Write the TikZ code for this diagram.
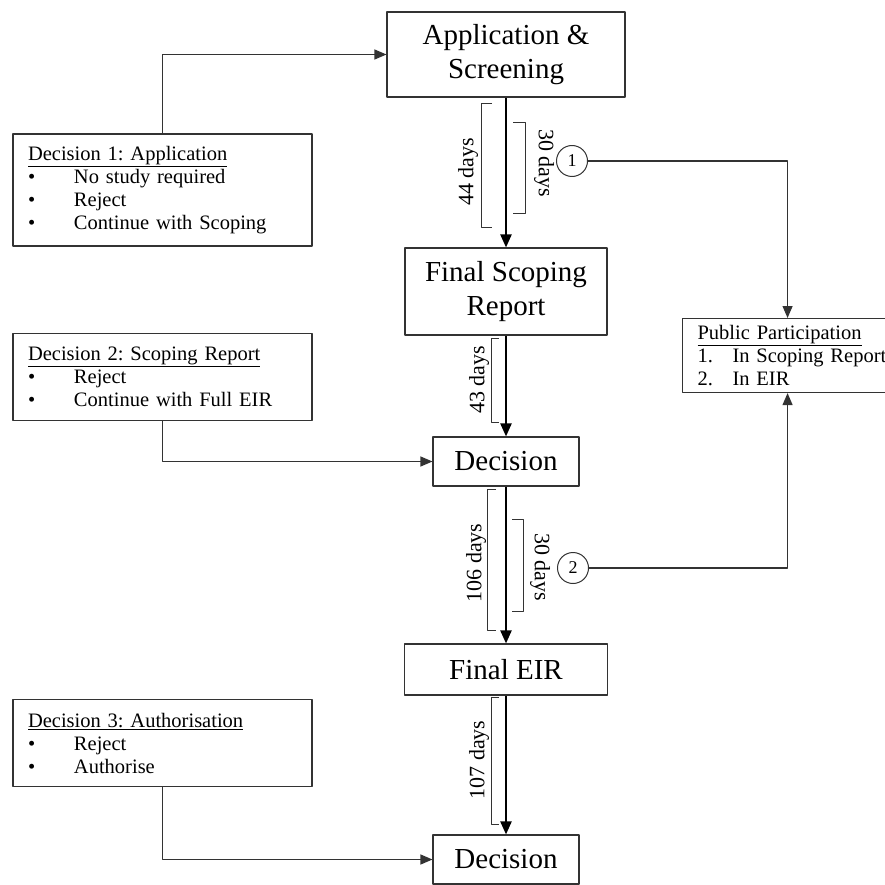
\documentclass[tikz,border=0pt]{standalone}
\usepackage{fontspec}
\setmainfont{Liberation Serif}
\usetikzlibrary{arrows.meta}
\frenchspacing
\tikzset{
  bigbox/.style={draw=black!80, line width=1.1pt, rectangle, align=center, font=\fontsize{29}{34}\selectfont, inner sep=0pt},
  listbox/.style={draw=black!80, line width=1.1pt, rectangle, align=left, font=\fontsize{20.5}{23}\selectfont, inner xsep=15pt, inner ysep=0pt},
  mainflow/.style={line width=2.2pt, -{Triangle[length=13pt,width=11pt]}},
  sideflow/.style={draw=black!80, line width=1.2pt, -{Triangle[length=12pt,width=10pt]}},
  bracketline/.style={draw=black!80, line width=0.9pt},
  daylabel/.style={font=\fontsize{22}{23}\selectfont, inner sep=0pt},
  ppcircle/.style={draw=black!80, line width=1pt, circle, minimum size=31pt, inner sep=0pt, font=\fontsize{18}{18}\selectfont},
}
\newcommand{\bul}{\makebox[46pt][l]{\textbullet}}

\begin{document}
\begin{tikzpicture}[x=1pt,y=-1pt,line join=round]
	\useasboundingbox (0,0) rectangle (885,885);
	\clip (0,0) rectangle (885,885);
	\node[bigbox, minimum width=238pt, minimum height=85pt] (app) at (506,54.5) {Application \&\\Screening};
	\node[bigbox, minimum width=202pt, minimum height=87pt] (scop) at (506,291.5) {Final Scoping\\Report};
	\node[bigbox, minimum width=146pt, minimum height=49pt] (decA) at (506,461.5) {Decision};
	\node[bigbox, minimum width=203pt, minimum height=51pt] (eir) at (506,669.5) {Final EIR};
	\node[bigbox, minimum width=146pt, minimum height=49pt] (decB) at (506,859.5) {Decision};
	\node[listbox, text width=269pt, minimum height=112pt] (appdec) at (162.5,190) {\underline{Decision 1: Application}\\
		\bul No study required\\
		\bul Reject\\
		\bul Continue with Scoping};
	\node[listbox, text width=269pt, minimum height=87pt] (scopdec) at (162.5,377) {\underline{Decision 2: Scoping Report}\\
		\bul Reject\\
		\bul Continue with Full EIR};
	\node[listbox, text width=269pt, minimum height=87pt] (authdec) at (162.5,743) {\underline{Decision 3: Authorisation}\\
		\bul Reject\\
		\bul Authorise};
	\node[listbox, text width=200pt, minimum height=74pt, anchor=north west] (pp) at (682,318) {\underline{Public Participation}\\
		\makebox[35pt][l]{1.}In Scoping Report\\
		\makebox[35pt][l]{2.}In EIR};
	\node[ppcircle] (pa) at (572,161) {1};
	\node[ppcircle] (pb) at (573,568) {2};
	\draw[mainflow] (app) -- (scop);
	\draw[mainflow] (scop) -- (decA);
	\draw[mainflow] (decA) -- (eir);
	\draw[mainflow] (eir) -- (decB);
	\draw[sideflow] (appdec.north) |- (app.west);
	\draw[sideflow] (scopdec.south) |- (decA.west);
	\draw[sideflow] (authdec.south) |- (decB.west);
	\draw[sideflow] (pa.east) -| ([xshift=-10pt]pp.north);
	\draw[sideflow] (pb.east) -| ([xshift=-10pt]pp.south);
	\foreach \xa/\xb/\ya/\yb in {492/481/103/227, 499/491/338/422, 496/487/489/630, 499/491/697/824}
	\draw[bracketline] (\xa,\ya) -- (\xb,\ya) -- (\xb,\yb) -- (\xa,\yb);
	\foreach \xa/\xb/\ya/\yb in {513/525/122/213, 512/523/519/611}
	\draw[bracketline] (\xa,\ya) -- (\xb,\ya) -- (\xb,\yb) -- (\xa,\yb);
	\node[daylabel, rotate=90] (d44) at (468,172) {44 days};
	\node[daylabel, rotate=-90] (d30a) at (544,163) {30 days};
	\node[daylabel, rotate=90] (d43) at (479,380) {43 days};
	\node[daylabel, rotate=90] (d106) at (476,563) {106 days};
	\node[daylabel, rotate=-90] (d30b) at (540,567) {30 days};
	\node[daylabel, rotate=90] (d107) at (479,760) {107 days};
\end{tikzpicture}
\end{document}
